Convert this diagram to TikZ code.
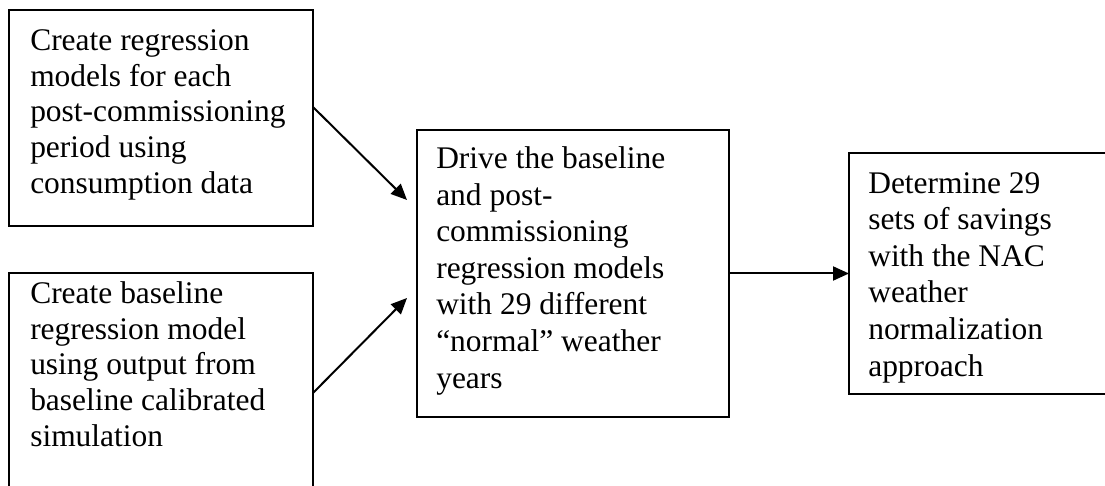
\documentclass[tikz,border=0pt]{standalone}
\usepackage{fontspec}
\setmainfont{Liberation Serif}
\usetikzlibrary{arrows.meta}
\begin{document}
\begin{tikzpicture}[x=0.75pt,y=0.75pt,
  boxstyle/.style={draw=black,line width=1.5pt,inner sep=0pt,outer sep=0pt},
  lefttext/.style={anchor=north west,inner sep=0pt,align=left,font=\fontsize{23.6pt}{26.8pt}\selectfont},
  righttext/.style={anchor=north west,inner sep=0pt,align=left,font=\fontsize{23.6pt}{27.4pt}\selectfont},
  arrowstyle/.style={line width=1.5pt,-{Triangle[length=12pt,width=10.5pt]}}]
\useasboundingbox (0,0) rectangle (1105,485);
\clip (0,0) rectangle (1105,485);
% boxes
\node[boxstyle,minimum width=304*0.75pt,minimum height=216*0.75pt] (b1) at (161,367) {};
\node[boxstyle,minimum width=304*0.75pt,minimum height=242*0.75pt] (b2) at (161,91) {};
\node[boxstyle,minimum width=312*0.75pt,minimum height=287*0.75pt] (b3) at (573,211.5) {};
\node[boxstyle,minimum width=281*0.75pt,minimum height=241*0.75pt] (b4) at (989.5,211.5) {};
% texts
\node[lefttext] (t1) at (30,460) {\strut Create regression\\models for each\\post-commissioning\\period using\\consumption data};
\node[lefttext] (t2) at (30,207) {\strut Create baseline\\regression model\\using output from\\baseline calibrated\\simulation};
\node[righttext] (t3) at (436,342) {\strut Drive the baseline\\and post-\\commissioning\\regression models\\with 29 different\\“normal” weather\\years};
\node[righttext] (t4) at (868,317.5) {\strut Determine 29\\sets of savings\\with the NAC\\weather\\normalization\\approach};
% arrows
\coordinate (e1) at (407,285);
\coordinate (e2) at (407,187);
\draw[arrowstyle] ([yshift=11*0.75pt]b1.east) -- (e1);
\draw[arrowstyle] ([yshift=1*0.75pt]b2.east) -- (e2);
\draw[arrowstyle] (b3.east) -- (b4.west);
\end{tikzpicture}
\end{document}
